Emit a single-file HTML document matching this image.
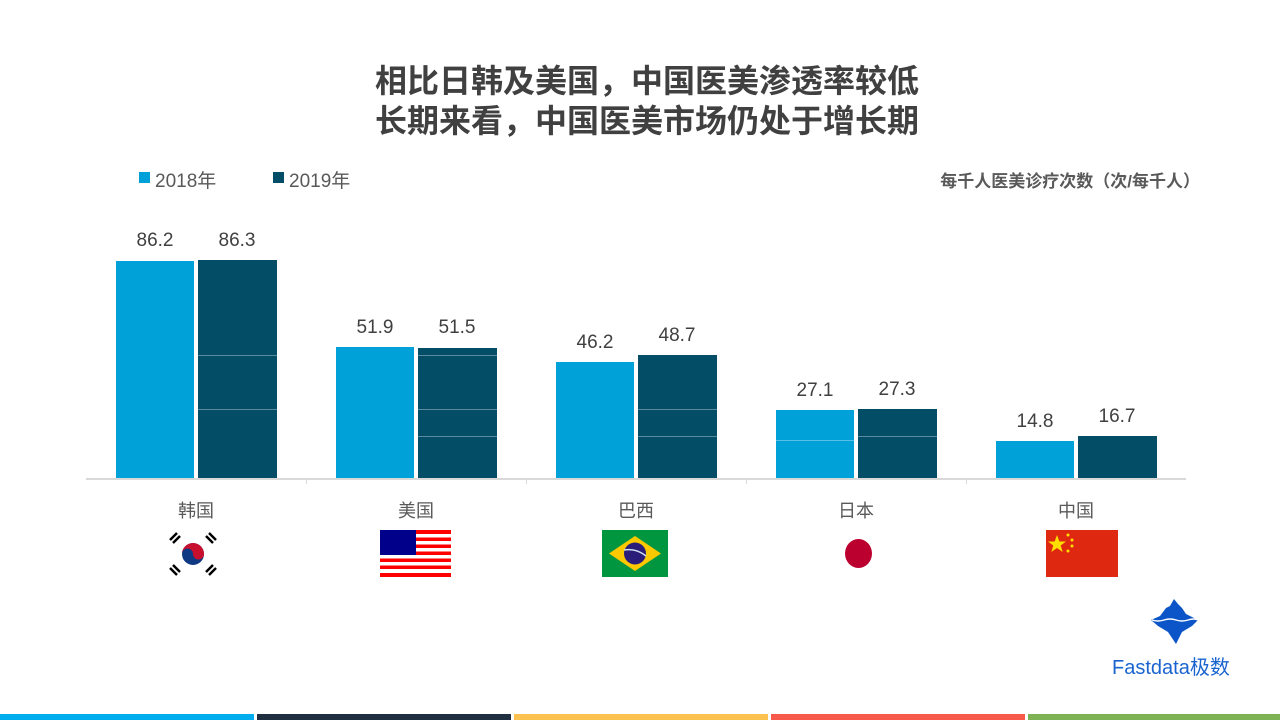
<!DOCTYPE html>
<html><head><meta charset="utf-8"><style>
body{margin:0;width:1280px;height:720px;background:#fff;position:relative;overflow:hidden;font-family:"Liberation Sans","Noto Sans CJK SC",sans-serif}
.a{position:absolute}
.t{left:0;width:1294px;text-align:center;font-weight:bold;font-size:32px;color:#404040;line-height:40px}
.b{position:absolute}
.c1{background:#00a0d8}.c2{background:#034d66}
.v{position:absolute;width:80px;text-align:center;font-size:19px;color:#404040}
.x{position:absolute;width:220px;text-align:center;font-size:18px;color:#595959;top:497px}
.ln{position:absolute;height:1px;background:rgba(255,255,255,.35)}
</style></head><body>
<div class="a t" style="top:61px">相比日韩及美国，中国医美渗透率较低</div>
<div class="a t" style="top:101px">长期来看，中国医美市场仍处于增长期</div>
<div class="a" style="left:139px;top:172px;width:11px;height:11px;background:#00a0d8"></div>
<div class="a" style="left:155px;top:166px;font-size:19px;color:#595959">2018年</div>
<div class="a" style="left:273px;top:172px;width:11px;height:11px;background:#034d66"></div>
<div class="a" style="left:289px;top:166px;font-size:19px;color:#595959">2019年</div>
<div class="a" style="right:80px;top:167px;font-size:17px;font-weight:bold;color:#595959">每千人医美诊疗次数（次/每千人）</div>

<div class="a" style="left:86px;top:478px;width:1100px;height:2px;background:#d9d9d9"></div>
<div class="a" style="left:306px;top:478px;width:1px;height:6px;background:#d9d9d9"></div>
<div class="a" style="left:526px;top:478px;width:1px;height:6px;background:#d9d9d9"></div>
<div class="a" style="left:746px;top:478px;width:1px;height:6px;background:#d9d9d9"></div>
<div class="a" style="left:966px;top:478px;width:1px;height:6px;background:#d9d9d9"></div>

<!-- Korea -->
<div class="b c1" style="left:116px;top:261px;width:78px;height:217px"></div>
<div class="b c2" style="left:198px;top:260px;width:79px;height:218px"></div>
<div class="ln" style="left:198px;top:355px;width:79px"></div><div class="ln" style="left:198px;top:409px;width:79px"></div>
<div class="v" style="left:115px;top:230px">86.2</div><div class="v" style="left:197px;top:230px">86.3</div>
<!-- US -->
<div class="b c1" style="left:336px;top:347px;width:78px;height:131px"></div>
<div class="b c2" style="left:418px;top:348px;width:79px;height:130px"></div>
<div class="ln" style="left:418px;top:355px;width:79px"></div><div class="ln" style="left:418px;top:409px;width:79px"></div><div class="ln" style="left:418px;top:436px;width:79px"></div>
<div class="v" style="left:335px;top:317px">51.9</div><div class="v" style="left:417px;top:317px">51.5</div>
<!-- Brazil -->
<div class="b c1" style="left:556px;top:362px;width:78px;height:116px"></div>
<div class="b c2" style="left:638px;top:355px;width:79px;height:123px"></div>
<div class="ln" style="left:638px;top:409px;width:79px"></div><div class="ln" style="left:638px;top:436px;width:79px"></div>
<div class="v" style="left:555px;top:332px">46.2</div><div class="v" style="left:637px;top:325px">48.7</div>
<!-- Japan -->
<div class="b c1" style="left:776px;top:410px;width:78px;height:68px"></div>
<div class="b c2" style="left:858px;top:409px;width:79px;height:69px"></div>
<div class="ln" style="left:776px;top:440px;width:78px"></div><div class="ln" style="left:858px;top:436px;width:79px"></div>
<div class="v" style="left:775px;top:380px">27.1</div><div class="v" style="left:857px;top:379px">27.3</div>
<!-- China -->
<div class="b c1" style="left:996px;top:441px;width:78px;height:37px"></div>
<div class="b c2" style="left:1078px;top:436px;width:79px;height:42px"></div>
<div class="v" style="left:995px;top:411px">14.8</div><div class="v" style="left:1077px;top:406px">16.7</div>

<div class="x" style="left:86px">韩国</div>
<div class="x" style="left:306px">美国</div>
<div class="x" style="left:526px">巴西</div>
<div class="x" style="left:746px">日本</div>
<div class="x" style="left:966px">中国</div>

<!-- flags -->
<svg class="a" style="left:165px;top:530px" width="56" height="48" viewBox="0 0 56 48">
<circle cx="28" cy="24" r="11" fill="#0f3a83"/><path d="M17 24a11 11 0 0 1 22 0a5.5 5.5 0 0 1-11 0a5.5 5.5 0 0 0-11 0z" fill="#c8102e"/>
<g stroke="#000" stroke-width="2.5"><line x1="5" y1="10" x2="12" y2="3"/><line x1="8" y1="13" x2="15" y2="6"/><line x1="44" y1="3" x2="51" y2="10"/><line x1="41" y1="6" x2="48" y2="13"/><line x1="5" y1="38" x2="12" y2="45"/><line x1="8" y1="35" x2="15" y2="42"/><line x1="44" y1="45" x2="51" y2="38"/><line x1="41" y1="42" x2="48" y2="35"/></g></svg>
<svg class="a" style="left:380px;top:530px" width="71" height="47" viewBox="0 0 71 47">
<rect width="71" height="47" fill="#fff"/>
<g fill="#f00"><rect y="0" width="71" height="4"/><rect y="7.5" width="71" height="3.5"/><rect y="14.5" width="71" height="3.5"/><rect y="21.5" width="71" height="3.5"/><rect y="28.5" width="71" height="3.5"/><rect y="35.5" width="71" height="3.5"/><rect y="43" width="71" height="4"/></g>
<rect width="36" height="25" fill="#00008b"/></svg>
<svg class="a" style="left:602px;top:530px" width="66" height="47" viewBox="0 0 66 47">
<rect width="66" height="47" fill="#009640"/><polygon points="33,6 59,23.5 33,41 7,23.5" fill="#fcc800"/><circle cx="33" cy="23.5" r="11" fill="#2a1d7a"/><path d="M22 20q12-2 22 6" stroke="#cde" stroke-width="1.5" fill="none"/></svg>
<div class="a" style="left:845px;top:539px;width:27px;height:29px;border-radius:50%;background:#bb0030"></div>
<svg class="a" style="left:1046px;top:530px" width="72" height="47" viewBox="0 0 72 47">
<rect width="72" height="47" fill="#de2910"/><polygon points="11,5 13.4,11.5 20,11.5 14.7,15.5 16.7,22 11,18 5.3,22 7.3,15.5 2,11.5 8.6,11.5" fill="#ffde00"/>
<g fill="#ffde00"><circle cx="22" cy="5" r="1.5"/><circle cx="26" cy="10" r="1.5"/><circle cx="26" cy="16" r="1.5"/><circle cx="22" cy="21" r="1.5"/></g></svg>

<!-- logo -->
<svg class="a" style="left:1148px;top:598px" width="54" height="48" viewBox="0 0 54 48">
<polygon points="3,22 12,18 18,10 22,8 26,1 30,6 34,10 38,16 44,19 50,22 44,28 34,34 28,46 24,40 20,34 10,28" fill="#0c55c8"/>
<path d="M4 22q6 2 12 0t12 0t12 0t10 0" stroke="#fff" stroke-width="1.4" fill="none"/></svg>
<div class="a" style="left:1112px;top:651px;font-size:20px;color:#1a64d0">Fastdata极数</div>

<div class="a" style="left:0;top:714px;width:254px;height:6px;background:#00aeef"></div>
<div class="a" style="left:257px;top:714px;width:254px;height:6px;background:#1f2f3f"></div>
<div class="a" style="left:514px;top:714px;width:254px;height:6px;background:#fbc250"></div>
<div class="a" style="left:771px;top:714px;width:254px;height:6px;background:#f7594a"></div>
<div class="a" style="left:1028px;top:714px;width:252px;height:6px;background:#7db354"></div>
</body></html>
